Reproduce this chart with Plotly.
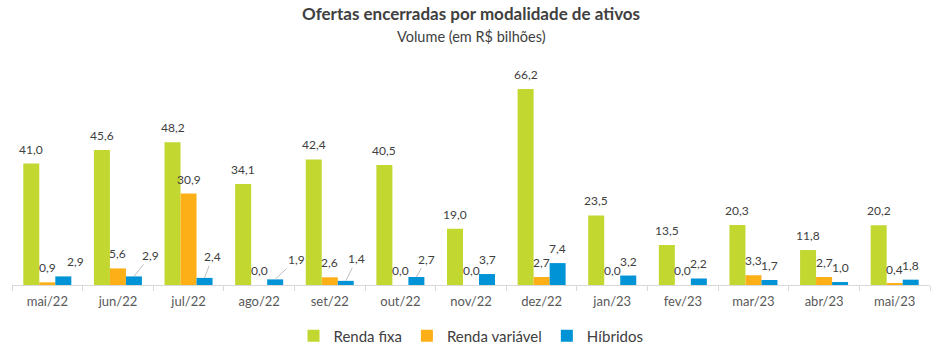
import plotly.graph_objects as go

months = ["mai/22", "jun/22", "jul/22", "ago/22", "set/22", "out/22", "nov/22",
          "dez/22", "jan/23", "fev/23", "mar/23", "abr/23", "mai/23"]
renda_fixa = [41.0, 45.6, 48.2, 34.1, 42.4, 40.5, 19.0, 66.2, 23.5, 13.5, 20.3, 11.8, 20.2]
renda_variavel = [0.9, 5.6, 30.9, 0.0, 2.6, 0.0, 0.0, 2.7, 0.0, 0.0, 3.3, 2.7, 0.4]
hibridos = [2.9, 2.9, 2.4, 1.9, 1.4, 2.7, 3.7, 7.4, 3.2, 2.2, 1.7, 1.0, 1.8]

series = [
    ("Renda fixa", renda_fixa, "#C2D72F"),
    ("Renda variável", renda_variavel, "#FCAF17"),
    ("Híbridos", hibridos, "#0094D7"),
]

FONT = "Lato"
LABEL_COLOR = "#404040"

bargap = 0.32
bw = (1 - bargap) / 3
offsets = [-bw, 0.0, bw]

fig = go.Figure()
for name, vals, color in series:
    fig.add_trace(go.Bar(name=name, x=months, y=vals, marker_color=color,
                         marker_line_width=0, hoverinfo="skip"))


def fmt(v):
    return f"{v:.1f}".replace(".", ",")


# label style tweaks for specific labels: (series index, month index) -> (xshift, yshift)
shift = {(2, 0): (12, 0)}
# labels with leader lines: (series index, month index) -> (ax, ay) in pixels
leaders = {(2, 1): (17, -21), (2, 2): (8, -21), (2, 3): (21, -20),
           (2, 4): (11, -22), (2, 5): (10, -18)}

annotations = []
for k, (name, vals, color) in enumerate(series):
    for i, v in enumerate(vals):
        x = i + offsets[k]
        if (k, i) in leaders:
            ax, ay = leaders[(k, i)]
            annotations.append(dict(
                x=x, y=v, xref="x", yref="y", text=fmt(v), showarrow=True,
                arrowhead=0, arrowwidth=1, arrowcolor="#BFBFBF", ax=ax, ay=ay,
                standoff=0, font=dict(family=FONT, size=12, color=LABEL_COLOR)))
        else:
            xs, ys = shift.get((k, i), (0, 0))
            annotations.append(dict(
                x=x, y=v, xref="x", yref="y", text=fmt(v), showarrow=False,
                yanchor="bottom", yshift=5 + ys, xshift=xs,
                font=dict(family=FONT, size=12, color=LABEL_COLOR)))

annotations.append(dict(
    x=0.5, y=1.0, xref="paper", yref="paper", xanchor="center", yanchor="bottom",
    yshift=34, showarrow=False,
    text="<b>Ofertas encerradas por modalidade de ativos</b>",
    font=dict(family=FONT, size=17, color="#404040")))
annotations.append(dict(
    x=0.5, y=1.0, xref="paper", yref="paper", xanchor="center", yanchor="bottom",
    yshift=13, showarrow=False, text="Volume (em R$ bilhões)",
    font=dict(family=FONT, size=14.5, color="#404040")))

fig.update_layout(
    width=945, height=353,
    margin=dict(l=12, r=15, t=60, b=68, autoexpand=False),
    paper_bgcolor="white", plot_bgcolor="white",
    barmode="group", bargap=bargap, bargroupgap=0,
    showlegend=True,
    legend=dict(orientation="h", x=0.5, xanchor="center", y=-0.227, yanchor="middle",
                font=dict(family=FONT, size=15, color="#404040"),
                itemwidth=30, tracegroupgap=0),
    annotations=annotations,
    xaxis=dict(type="category", showline=True, linecolor="#D9D9D9", linewidth=1,
               ticks="outside", tickson="boundaries", ticklen=5, tickcolor="#D9D9D9",
               ticklabelstandoff=4,
               tickfont=dict(family=FONT, size=13, color="#595959"),
               showgrid=False, zeroline=False, range=[-0.5, 12.5]),
    yaxis=dict(visible=False, range=[0, 76], showgrid=False, zeroline=False),
)

fig.write_html("out.html")
